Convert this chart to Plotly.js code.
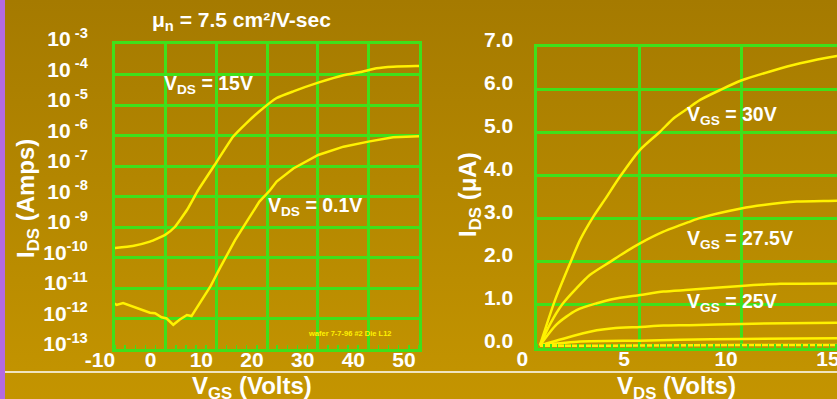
<!DOCTYPE html>
<html><head><meta charset="utf-8">
<script src="https://cdn.plot.ly/plotly-3.0.1.min.js"></script>
<style>
html,body{margin:0;padding:0;overflow:hidden;width:837px;height:399px;}
body{background:linear-gradient(to bottom,#A57A00 0px,#C29300 370px,#C49400 399px);}
#chart{width:870px;height:399px;}
</style></head><body><div id="chart"></div>
<script>
// ---- left panel: transfer curves (log I_DS vs V_GS) ----
const vgsTickVals = [-10, 0, 10, 20, 30, 40, 50];
const idsTickVals = [1e-13, 1e-12, 1e-11, 1e-10, 1e-9, 1e-8, 1e-7, 1e-6, 1e-5, 1e-4, 1e-3];
const idsTickText = ['10<sup>-13</sup>', '10<sup>-12</sup>', '10<sup>-11</sup>', '10<sup>-10</sup>',
  '10<sup> -9</sup>', '10<sup> -8</sup>', '10<sup> -7</sup>', '10<sup> -6</sup>', '10<sup> -5</sup>',
  '10<sup> -4</sup>', '10<sup> -3</sup>'];

const vgsHigh = [-10.6, -6.5, -3.1, -0.1, 1.8, 4.2, 6.4, 9.7, 13.3, 16.0, 18.4, 21.9, 25.2, 30.1, 35.1, 38.4, 41.6, 44.9, 49.4, 50];
const idsHigh = [2.0e-10, 2.4e-10, 3.3e-10, 5.5e-10, 1.0e-9, 3.6e-9, 1.6e-8, 1.1e-7, 9.1e-7, 2.6e-6, 6.0e-6, 1.7e-5, 2.8e-5, 5.4e-5, 9.5e-5, 1.2e-4, 1.6e-4, 1.8e-4, 1.9e-4, 1.9e-4];

const vgsLow = [-10.6, -9.7, -8.4, -6.7, -5.1, -3.1, -2.1, -0.8, 0.2, 1.5, 2.8, 4.2, 5.1, 6.8, 8.8, 10.7, 12.4, 13.7, 16.0, 18.5, 20.6, 21.9, 25.2, 30.1, 35.1, 40.0, 44.9, 49.4, 50];
const idsLow = [3.5e-12, 2.8e-12, 3.2e-12, 2.5e-12, 2.1e-12, 1.55e-12, 1.5e-12, 1.1e-12, 1.0e-12, 6.2e-13, 9.3e-13, 1.3e-12, 1.2e-12, 3.2e-12, 1.1e-11, 4.5e-11, 1.5e-10, 3.7e-10, 1.5e-9, 6.8e-9, 1.6e-8, 3.1e-8, 8.3e-8, 2.3e-7, 4.3e-7, 6.3e-7, 8.7e-7, 9.5e-7, 9.5e-7];

// ---- right panel: output curves (I_DS in uA vs V_DS) ----
const vdsTickVals = [0, 5, 10, 15];
const iuaTickVals = [0, 1, 2, 3, 4, 5, 6, 7];

const vds30 = [0.13, 0.87, 1.61, 2.10, 2.75, 3.32, 4.06, 5.04, 6.02, 6.68, 7.41, 7.99, 8.97, 10.0, 11.42, 12.9, 14.7, 15.0];
const ids30 = [0.06, 1.11, 1.97, 2.51, 3.05, 3.45, 3.98, 4.60, 5.02, 5.33, 5.57, 5.76, 5.99, 6.21, 6.42, 6.61, 6.78, 6.80];

const vds275 = [0.13, 0.62, 1.20, 1.93, 2.59, 3.57, 4.39, 5.04, 6.19, 7.46, 8.0, 10.0, 11.09, 12.73, 14.7, 15.0];
const ids275 = [0.06, 0.55, 1.00, 1.39, 1.70, 2.00, 2.25, 2.43, 2.70, 2.93, 3.02, 3.24, 3.32, 3.40, 3.42, 3.43];

const vds25 = [0.13, 0.95, 1.93, 2.92, 3.73, 5.04, 6.19, 7.46, 10.0, 11.91, 15.0];
const ids25 = [0.06, 0.55, 0.88, 1.04, 1.14, 1.23, 1.31, 1.35, 1.44, 1.49, 1.50];

const vds225 = [0.13, 1.93, 2.92, 3.73, 5.04, 6.19, 7.46, 10.0, 15.0];
const ids225 = [0.06, 0.30, 0.41, 0.46, 0.49, 0.52, 0.53, 0.56, 0.59];

const vds20 = [0.13, 2.10, 5.04, 7.0, 10.0, 15.0];
const ids20 = [0.06, 0.15, 0.17, 0.19, 0.21, 0.23];

const vds175 = [0.13, 2.0, 5.0, 10.0, 15.0];
const ids175 = [0.05, 0.05, 0.06, 0.07, 0.07];

const W = 870, H = 399;
const GREEN = '#3fe01a';
const YEL = '#fff200';
const FONT = 'Liberation Sans, Arial, sans-serif';
const px = v => v / W;
const py = v => 1 - v / H;

function line(x, y, xa, ya, shape, sm) {
  return {x: x, y: y, xaxis: xa, yaxis: ya, mode: 'lines', type: 'scatter',
    line: {color: YEL, width: 2.5, shape: shape || 'spline', smoothing: sm || 0.5},
    hoverinfo: 'skip', showlegend: false};
}

const data = [
  line(vgsHigh, idsHigh, 'x', 'y', 'spline', 0.4),
  line(vgsLow, idsLow, 'x', 'y', 'linear'),
  line(vds30, ids30, 'x2', 'y2', 'spline', 0.7),
  line(vds275, ids275, 'x2', 'y2', 'spline', 0.7),
  line(vds25, ids25, 'x2', 'y2', 'spline', 0.7),
  line(vds225, ids225, 'x2', 'y2', 'spline', 0.6),
  line(vds20, ids20, 'x2', 'y2', 'spline', 0.6),
  line(vds175, ids175, 'x2', 'y2', 'spline', 0.6)
];

const tickFont = {family: FONT, size: 21, color: '#ffffff', weight: 'bold'};
const axBase = {
  showgrid: true, gridcolor: GREEN, gridwidth: 3,
  showline: true, linecolor: GREEN, linewidth: 3, mirror: true,
  zeroline: false, ticks: '', tickfont: tickFont, fixedrange: true
};

const layout = {
  width: W, height: H,
  margin: {l: 0, r: 0, t: 0, b: 0},
  paper_bgcolor: 'rgba(0,0,0,0)', plot_bgcolor: 'rgba(0,0,0,0)',
  showlegend: false,
  xaxis: Object.assign({}, axBase, {
    domain: [px(115), px(419)], range: [-10, 50], tickmode: 'array', tickvals: vgsTickVals,
    ticktext: vgsTickVals.map(String), anchor: 'y', ticklabelshift: -15, ticklabelstandoff: -10,
    minor: {ticks: 'inside', ticklen: 4, tickwidth: 1.5, tickcolor: GREEN, dtick: 2, showgrid: false}
  }),
  yaxis: Object.assign({}, axBase, {
    domain: [py(349), py(44)], type: 'log', range: [-13, -3], tickmode: 'array',
    tickvals: idsTickVals, ticktext: idsTickText, anchor: 'x', ticklabelstandoff: 20, ticklabelshift: -5
  }),
  xaxis2: Object.assign({}, axBase, {
    domain: [px(537.3), px(843)], range: [0, 15], tickmode: 'array', tickvals: vdsTickVals,
    ticktext: vdsTickVals.map(String), anchor: 'y2', ticklabelshift: -15, ticklabelstandoff: -10,
    minor: {ticks: 'inside', ticklen: 4, tickwidth: 1.5, tickcolor: GREEN, dtick: 1/3, showgrid: false}
  }),
  yaxis2: Object.assign({}, axBase, {
    domain: [py(348), py(46.5)], range: [0, 7], tickmode: 'array', tickvals: iuaTickVals,
    ticktext: iuaTickVals.map(v => v.toFixed(1)), anchor: 'x2', ticklabelstandoff: 17, ticklabelshift: -7
  }),
  shapes: [
    {type: 'rect', xref: 'paper', yref: 'paper', x0: 0, x1: px(5), y0: 0, y1: 1,
      fillcolor: '#b46ae0', line: {width: 0}, layer: 'below'},
    {type: 'line', xref: 'paper', yref: 'paper', x0: px(5), x1: 1, y0: py(372), y1: py(372),
      line: {color: '#ffffff', width: 1.5}, layer: 'below'}
  ],
  annotations: [
    {text: 'μ<sub>n</sub> = 7.5 cm²/V-sec', x: px(242), y: py(21), size: 21},
    {text: 'V<sub>DS</sub> = 15V', x: px(162), y: py(85), xanchor: 'left', size: 19.5},
    {text: 'V<sub>DS</sub> = 0.1V', x: px(266), y: py(206), xanchor: 'left', size: 19.5},
    {text: 'wafer 7-7-96 #2 Die L12', x: px(350), y: py(333), size: 7.5, color: YEL},
    {text: 'V<sub>GS</sub> = 30V', x: px(685), y: py(115), xanchor: 'left', size: 19.5},
    {text: 'V<sub>GS</sub> = 27.5V', x: px(685), y: py(239), xanchor: 'left', size: 19.5},
    {text: 'V<sub>GS</sub> = 25V', x: px(685), y: py(302), xanchor: 'left', size: 19.5},
    {text: 'V<sub>GS</sub> (Volts)', x: px(252), y: py(387), size: 24},
    {text: 'V<sub>DS</sub> (Volts)', x: px(676), y: py(387), size: 24},
    {text: 'I<sub>DS</sub> (Amps)', x: px(27), y: py(199), size: 24, textangle: -90},
    {text: 'I<sub>DS</sub> (μA)', x: px(469), y: py(195), size: 24, textangle: -90}
  ].map(a => ({
    text: a.text, x: a.x, y: a.y, xref: 'paper', yref: 'paper', showarrow: false,
    xanchor: a.xanchor || 'center', yanchor: 'middle', textangle: a.textangle || 0,
    font: {family: FONT, size: a.size, color: a.color || '#ffffff', weight: 'bold'}
  }))
};

Plotly.newPlot('chart', data, layout, {staticPlot: true, displayModeBar: false});
</script>
</body></html>
